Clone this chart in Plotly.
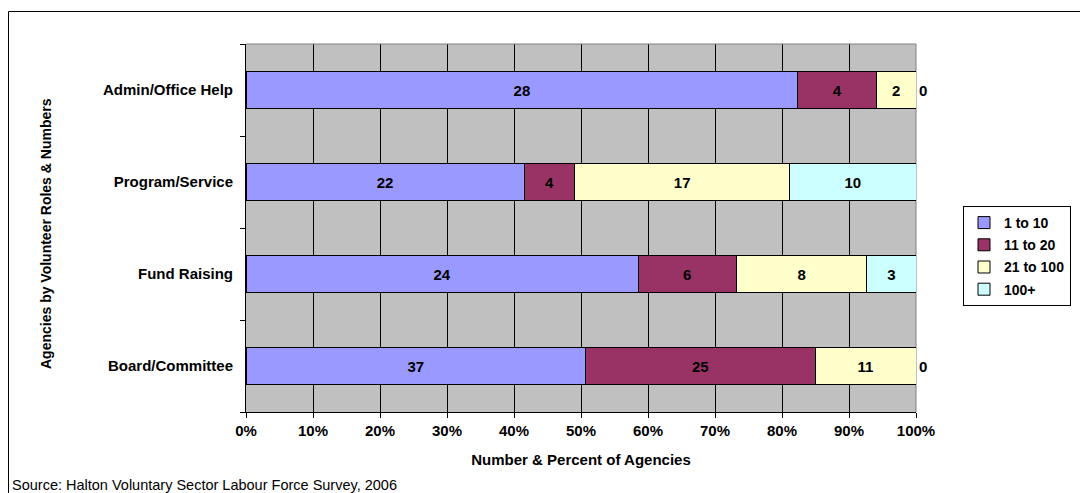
import plotly.graph_objects as go

roles = ["Board/Committee", "Fund Raising", "Program/Service", "Admin/Office Help"]
groups = ["1 to 10", "11 to 20", "21 to 100", "100+"]
counts = {
    "1 to 10": [37, 24, 22, 28],
    "11 to 20": [25, 6, 4, 4],
    "21 to 100": [11, 8, 17, 2],
    "100+": [0, 3, 10, 0],
}
colors = ["#9999FF", "#993366", "#FFFFCC", "#CCFFFF"]
pct_ticks = list(range(0, 101, 10))
pct_labels = [f"{v}%" for v in pct_ticks]

FONT = "Liberation Sans, Arial, sans-serif"
W, H = 1088, 493
OFF = 8  # page body margin
L, T = 246 - OFF, 44 - OFF
pw, ph = 670, 368
R = W - L - pw
B = H - T - ph


def px(xs):
    # screen x -> paper x
    return (xs - OFF - L) / pw


def py(ys):
    # screen y -> paper y
    return (T + ph - (ys - OFF)) / ph


fig = go.Figure()
for g, c in zip(groups, colors):
    vals = counts[g]
    pos = ["outside" if v == 0 else "inside" for v in vals]
    fig.add_trace(go.Bar(
        y=roles, x=vals, name=g, orientation="h",
        marker=dict(color=c, line=dict(color="black", width=1)),
        text=[str(v) for v in vals], textposition=pos,
        insidetextanchor="middle", constraintext="none",
        textfont=dict(family=FONT, size=15, color="black", weight="bold"),
        cliponaxis=False, legendgroup=g,
    ))

fig.update_layout(
    width=W, height=H,
    margin=dict(l=L, r=R, t=T, b=B),
    barmode="stack", barnorm="percent", bargap=0.6,
    paper_bgcolor="white", plot_bgcolor="#C0C0C0",
    font=dict(family=FONT, size=15, color="black"),
    legend=dict(
        x=px(963), y=py(206),
        xanchor="left", yanchor="top",
        bordercolor="black", borderwidth=1, bgcolor="white",
        font=dict(family=FONT, size=14, weight="bold"),
        tracegroupgap=1, itemwidth=30,
    ),
    showlegend=True,
)

fig.update_xaxes(
    range=[0, 100], tickvals=pct_ticks, ticktext=pct_labels,
    showgrid=True, gridcolor="black", gridwidth=1,
    showline=True, linecolor="black", linewidth=1,
    ticks="outside", ticklen=5, tickcolor="black",
    tickfont=dict(family=FONT, size=15, weight="bold"),
    zeroline=False,
    title=dict(text="Number & Percent of Agencies",
               font=dict(family=FONT, size=15, weight="bold"), standoff=16),
)
fig.update_yaxes(
    showgrid=False, showline=True, linecolor="black", linewidth=1,
    ticks="outside", ticklen=5, tickcolor="black", tickson="boundaries",
    tickfont=dict(family=FONT, size=15, weight="bold"),
    ticklabelstandoff=9,
)

# plot area frame (gray) on top/right
fig.add_shape(type="line", xref="paper", yref="paper", x0=0, x1=1, y0=1, y1=1,
              line=dict(color="#808080", width=1))
fig.add_shape(type="line", xref="paper", yref="paper", x0=1, x1=1, y0=0, y1=1,
              line=dict(color="#808080", width=1), layer="below")
# outer chart border (left and top visible)
fig.add_shape(type="path", xref="paper", yref="paper",
              path=f"M {px(8.5)} {py(510)} L {px(8.5)} {py(11.5)} L {px(1110)} {py(11.5)}",
              line=dict(color="black", width=1))

fig.add_annotation(
    text="Agencies by Volunteer Roles & Numbers", textangle=-90,
    xref="paper", yref="paper", x=px(46), y=py(234),
    xanchor="center", yanchor="middle",
    showarrow=False, font=dict(family=FONT, size=14, weight="bold"),
)
fig.add_annotation(
    text="Source: Halton Voluntary Sector Labour Force Survey, 2006",
    xref="paper", yref="paper", x=px(10), y=py(485),
    xanchor="left", yanchor="middle",
    showarrow=False, font=dict(family=FONT, size=14.5, color="black"),
)

fig.write_html("out.html")
